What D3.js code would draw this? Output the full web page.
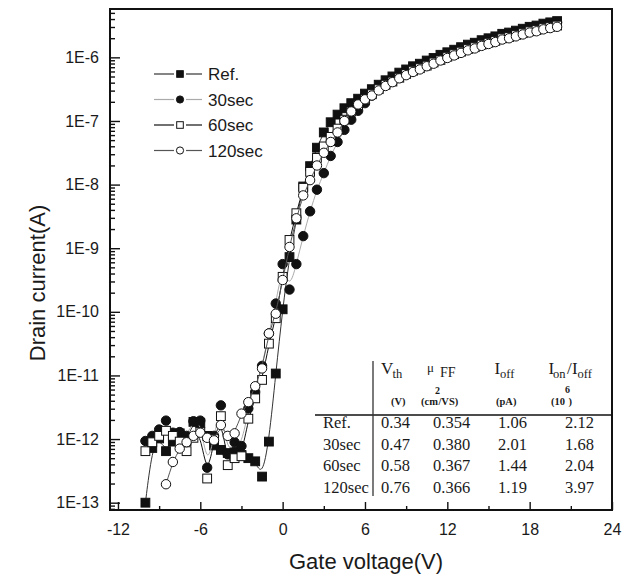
<!DOCTYPE html>
<html>
<head>
<meta charset="utf-8">
<script src="https://cdn.jsdelivr.net/npm/d3@7"></script>
<style>
  body { margin: 0; background: #fff; }
  svg { display: block; }
  text { fill: #1a1a1a; }
</style>
</head>
<body>
<svg id="chart" width="633" height="578"></svg>
<script>
// gate voltage sweep (V)
const gateV = [
  -10, -9.5, -9, -8.5, -8, -7.5, -7, -6.5, -6, -5.5,
  -5, -4.5, -4, -3.5, -3, -2.5, -2, -1.5, -1, -0.5,
  0, 0.5, 1, 1.5, 2, 2.5, 3, 3.5, 4, 4.5,
  5, 5.5, 6, 6.5, 7, 7.5, 8, 8.5, 9, 9.5,
  10, 10.5, 11, 11.5, 12, 12.5, 13, 13.5, 14, 14.5,
  15, 15.5, 16, 16.5, 17, 17.5, 18, 18.5, 19, 19.5,
  20
];

// drain current, stored as log10(A)
const refLogI = [
  -13.00, -12.14, -11.99, -12.19, -12.04, -11.91, -12.03, -11.73, -11.75, -11.95,
  -12.10, -12.17, -12.22, -12.20, -12.25, -12.30, -12.35, -12.59, -12.04, -10.97,
  -9.96, -9.14, -8.55, -8.03, -7.71, -7.42, -7.18, -7.02, -6.90, -6.80,
  -6.72, -6.65, -6.57, -6.50, -6.43, -6.36, -6.30, -6.24, -6.19, -6.14,
  -6.10, -6.05, -6.01, -5.96, -5.92, -5.88, -5.84, -5.80, -5.77, -5.73,
  -5.70, -5.67, -5.63, -5.61, -5.58, -5.55, -5.52, -5.50, -5.47, -5.45,
  -5.43
];
const s30LogI = [
  -12.03, -11.95, -11.85, -11.71, -11.90, -11.89, -11.95, -11.72, -11.71, -12.45,
  -11.95, -11.47, -12.24, -12.05, -12.11, -11.52, -11.26, -10.85, -10.34, -9.87,
  -9.25, -9.65, -9.25, -8.81, -8.42, -8.08, -7.82, -7.55, -7.33, -7.14,
  -6.98, -6.84, -6.72, -6.60, -6.50, -6.42, -6.35, -6.28, -6.22, -6.17,
  -6.12, -6.07, -6.03, -5.98, -5.94, -5.90, -5.86, -5.82, -5.79, -5.75,
  -5.72, -5.69, -5.65, -5.63, -5.60, -5.57, -5.54, -5.52, -5.49, -5.47,
  -5.45
];
const s60LogI = [
  -12.19, -12.05, -11.95, -11.87, -11.95, -12.04, -12.19, -11.98, -11.89, -12.62,
  -12.00, -11.64, -12.41, -12.30, -12.27, -11.68, -11.36, -11.07, -10.50, -10.10,
  -9.45, -8.87, -8.45, -8.05, -7.80, -7.58, -7.40, -7.25, -7.12, -6.98,
  -6.85, -6.75, -6.66, -6.58, -6.50, -6.43, -6.38, -6.32, -6.26, -6.21,
  -6.17, -6.13, -6.08, -6.04, -5.99, -5.95, -5.91, -5.87, -5.84, -5.80,
  -5.77, -5.74, -5.70, -5.68, -5.65, -5.62, -5.59, -5.57, -5.54, -5.52,
  -5.50
];
const s120LogI = [
  null, null, null, -12.71, -12.36, -12.15, -12.05, -11.95, -11.90, -11.98,
  -12.02, -11.78, -11.95, -11.91, -11.60, -11.42, -11.17, -10.89, -10.34, -10.03,
  -9.50, -8.98, -8.53, -8.17, -7.93, -7.70, -7.50, -7.33, -7.18, -7.00,
  -6.85, -6.74, -6.66, -6.60, -6.52, -6.45, -6.39, -6.33, -6.28, -6.23,
  -6.19, -6.14, -6.10, -6.05, -6.01, -5.97, -5.93, -5.89, -5.86, -5.82,
  -5.79, -5.76, -5.72, -5.70, -5.67, -5.64, -5.61, -5.59, -5.56, -5.54,
  -5.52
];

const seriesNames = ["Ref.", "30sec", "60sec", "120sec"];

const xTicks = [-12, -6, 0, 6, 12, 18, 24];
const xTickLabels = ["-12", "-6", "0", "6", "12", "18", "24"];
const xMinorTicks = [-9, -3, 3, 9, 15, 21];
const yDecades = [-13, -12, -11, -10, -9, -8, -7, -6];
const yTickLabels = ["1E-13", "1E-12", "1E-11", "1E-10", "1E-9", "1E-8", "1E-7", "1E-6"];

// inset table
const tableRows = ["Ref.", "30sec", "60sec", "120sec"];
const vthCol = ["0.34", "0.47", "0.58", "0.76"];
const muCol = ["0.354", "0.380", "0.367", "0.366"];
const ioffCol = ["1.06", "2.01", "1.44", "1.19"];
const ratioCol = ["2.12", "1.68", "2.04", "3.97"];

const svg = d3.select("#chart");
const sans = "'Liberation Sans', Arial, sans-serif";
const serif = "'Liberation Serif', 'Times New Roman', serif";

const plotL = 110, plotR = 612, plotT = 9, plotB = 510;

const x = d3.scaleLinear().domain([-12.58, 24]).range([plotL, plotR]);
const y = d3.scaleLog().domain([Math.pow(10, -13.115), Math.pow(10, -5.24)]).range([plotB, plotT]);

// minor log ticks
const yMinor = [];
yDecades.concat([-14, -5]).forEach(e => {
  for (let m = 2; m <= 9; m++) {
    const v = m * Math.pow(10, e);
    if (v > y.domain()[0] && v < y.domain()[1]) yMinor.push(v);
  }
});

function styleAxis(g) {
  g.select(".domain").remove();
  g.selectAll(".tick line").attr("stroke", "#111").attr("stroke-width", 1.4);
  g.selectAll(".tick text").attr("font-family", sans).attr("font-size", 16).attr("fill", "#1a1a1a");
}

svg.append("g").attr("transform", `translate(${plotL},0)`)
  .call(d3.axisLeft(y).tickValues(yMinor).tickSize(-5).tickFormat(""))
  .call(styleAxis);
svg.append("g").attr("transform", `translate(${plotL},0)`)
  .call(d3.axisLeft(y).tickValues(yDecades.map(e => Math.pow(10, e))).tickSize(-10).tickPadding(11)
    .tickFormat((d, i) => yTickLabels[i]))
  .call(styleAxis);

svg.append("g").attr("transform", `translate(0,${plotB})`)
  .call(d3.axisBottom(x).tickValues(xMinorTicks).tickSize(-4).tickFormat(""))
  .call(styleAxis);
svg.append("g").attr("transform", `translate(0,${plotB})`)
  .call(d3.axisBottom(x).tickValues(xTicks).tickSize(-8).tickPadding(14)
    .tickFormat((d, i) => xTickLabels[i]))
  .call(styleAxis);

svg.append("rect")
  .attr("x", plotL).attr("y", plotT)
  .attr("width", plotR - plotL).attr("height", plotB - plotT)
  .attr("fill", "none").attr("stroke", "#111").attr("stroke-width", 2);

// axis titles
svg.append("text")
  .attr("transform", "rotate(-90)")
  .attr("x", -283).attr("y", 45)
  .attr("text-anchor", "middle")
  .attr("font-family", sans).attr("font-size", 22)
  .text("Drain current(A)");
svg.append("text")
  .attr("x", 366).attr("y", 569)
  .attr("text-anchor", "middle")
  .attr("font-family", sans).attr("font-size", 22)
  .text("Gate voltage(V)");

// series
const series = [
  { name: seriesNames[0], vals: refLogI, shape: "square", fill: "#111", line: "#333" },
  { name: seriesNames[1], vals: s30LogI, shape: "circle", fill: "#111", line: "#aaa" },
  { name: seriesNames[2], vals: s60LogI, shape: "square", fill: "#fff", line: "#111" },
  { name: seriesNames[3], vals: s120LogI, shape: "circle", fill: "#fff", line: "#555" }
];

const line = d3.line()
  .x(d => x(d.v))
  .y(d => y(d.i))
  .curve(d3.curveBasis);

function drawMarker(g, s, cx, cy, size) {
  if (s.shape === "square") {
    g.append("rect")
      .attr("x", cx - size / 2).attr("y", cy - size / 2)
      .attr("width", size).attr("height", size)
      .attr("fill", s.fill).attr("stroke", "#111").attr("stroke-width", 1);
  } else {
    g.append("circle")
      .attr("cx", cx).attr("cy", cy).attr("r", size / 2 + 0.3)
      .attr("fill", s.fill).attr("stroke", "#111").attr("stroke-width", 1);
  }
}

series.forEach(s => {
  const pts = gateV.map((v, i) => ({ v: v, l: s.vals[i] }))
    .filter(d => d.l !== null)
    .map(d => ({ v: d.v, i: Math.pow(10, d.l) }));
  const g = svg.append("g");
  g.append("path")
    .attr("d", line(pts))
    .attr("fill", "none")
    .attr("stroke", s.line)
    .attr("stroke-width", 1);
  pts.forEach(d => drawMarker(g, s, x(d.v), y(d.i), 8.8));
});

// legend
const legend = svg.append("g");
series.forEach((s, k) => {
  const ly = 74 + k * 25.5;
  legend.append("line").attr("x1", 154).attr("x2", 174).attr("y1", ly).attr("y2", ly)
    .attr("stroke", s.line).attr("stroke-width", 1.2);
  legend.append("line").attr("x1", 186).attr("x2", 202).attr("y1", ly).attr("y2", ly)
    .attr("stroke", s.line).attr("stroke-width", 1.2);
  drawMarker(legend, s, 180, ly, 6.6);
  legend.append("text")
    .attr("x", 208).attr("y", ly + 6)
    .attr("font-family", sans).attr("font-size", 17)
    .text(s.name);
});

// inset table
const tbl = svg.append("g").attr("font-family", serif);
tbl.append("line").attr("x1", 315).attr("x2", plotR).attr("y1", 415).attr("y2", 415)
  .attr("stroke", "#111").attr("stroke-width", 1.4);
tbl.append("line").attr("x1", 373).attr("x2", 373).attr("y1", 361).attr("y2", 496)
  .attr("stroke", "#333").attr("stroke-width", 1.3);

function headText(xp, yp, size, str) {
  return tbl.append("text").attr("x", xp).attr("y", yp).attr("font-size", size).text(str);
}
// header row
headText(381, 374, 17, "V");
headText(392.5, 378, 12.5, "th");
headText(427, 372, 13, "\u03bc");
headText(440, 377, 14, "FF");
headText(494.5, 374, 17, "I");
headText(500, 378, 12.5, "off");
headText(548.5, 374, 17, "I");
headText(553, 378, 12.5, "on");
headText(567, 374, 17, "/");
headText(572, 374, 17, "I");
headText(577.5, 378, 12.5, "off");

// units row
const units = tbl.append("g").attr("font-size", 10.5).attr("font-weight", "bold");
units.append("text").attr("x", 391).attr("y", 405).text("(V)");
const cm = units.append("text").attr("x", 421).attr("y", 405);
cm.append("tspan").text("(cm");
cm.append("tspan").attr("dy", -11).attr("dx", -3).attr("font-size", 10).text("2");
cm.append("tspan").attr("dy", 11).attr("dx", -1.5).text("/VS)");
units.append("text").attr("x", 496).attr("y", 405).text("(pA)");
const ten = units.append("text").attr("x", 551).attr("y", 405);
ten.append("tspan").text("(10");
ten.append("tspan").attr("dy", -12).attr("font-size", 10).text("6");
ten.append("tspan").attr("dy", 12).attr("dx", -1.5).text(")");

// body rows
const colX = [323, 381, 433, 498, 565];
const cols = [tableRows, vthCol, muCol, ioffCol, ratioCol];
tableRows.forEach((r, i) => {
  const by = 428 + i * 21.5;
  cols.forEach((c, j) => {
    tbl.append("text")
      .attr("x", colX[j]).attr("y", by)
      .attr("font-size", 16.5)
      .text(c[i]);
  });
});
</script>
</body>
</html>
